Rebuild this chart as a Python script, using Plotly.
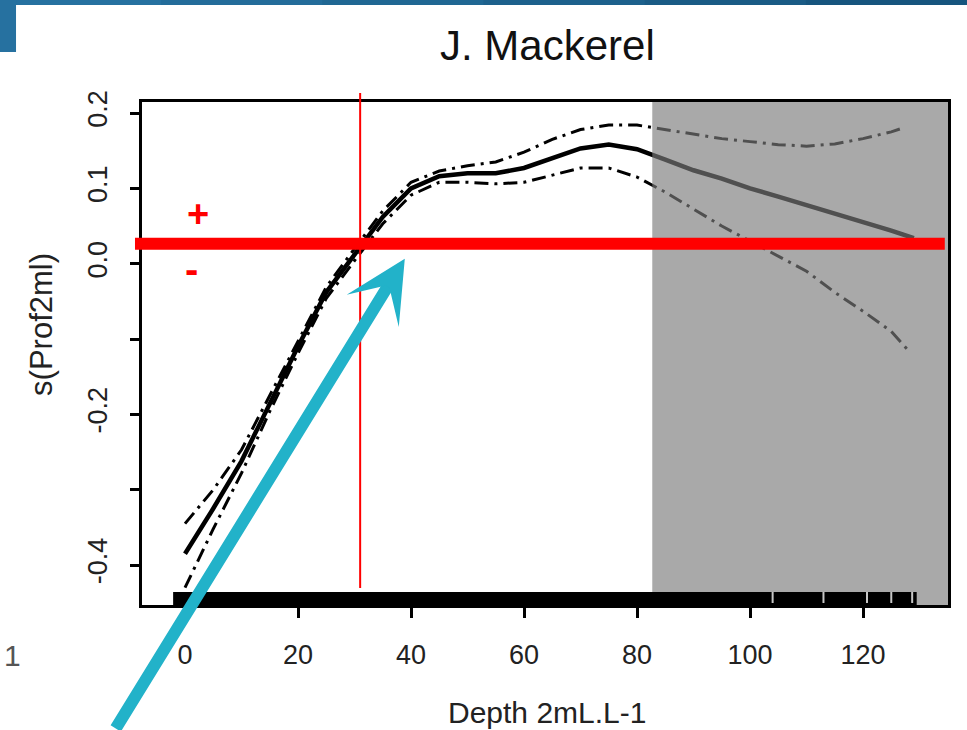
import plotly.graph_objects as go

# ---- data ----
depth = [0, 5, 10, 15, 20, 25, 30, 35, 40, 45, 50, 55, 60, 65, 70, 75, 80,
         85, 90, 95, 100, 105, 110, 115, 120, 125, 129]
s_mean = [-0.385, -0.325, -0.262, -0.185, -0.11, -0.038, 0.012, 0.062, 0.1,
          0.116, 0.12, 0.12, 0.127, 0.14, 0.153, 0.158, 0.152, 0.138, 0.124,
          0.113, 0.1, 0.089, 0.078, 0.066, 0.055, 0.044, 0.034]
upper_x = [0, 5, 10, 15, 20, 25, 30, 35, 40, 45, 50, 55, 60, 65, 70, 75, 80,
           85, 90, 95, 100, 105, 110, 115, 120, 125, 127]
s_upper = [-0.345, -0.3, -0.247, -0.175, -0.102, -0.031, 0.02, 0.07, 0.108,
           0.123, 0.13, 0.135, 0.148, 0.165, 0.178, 0.184, 0.184, 0.178, 0.171,
           0.166, 0.162, 0.158, 0.156, 0.159, 0.166, 0.175, 0.18]
lower_x = [0, 5, 10, 15, 20, 25, 30, 35, 40, 45, 50, 55, 60, 65, 70, 75, 80,
           85, 90, 95, 100, 105, 110, 115, 120, 125, 128]
s_lower = [-0.43, -0.352, -0.278, -0.196, -0.119, -0.046, 0.004, 0.053, 0.091,
           0.108, 0.108, 0.106, 0.108, 0.118, 0.127, 0.127, 0.115, 0.095, 0.072,
           0.05, 0.03, 0.01, -0.01, -0.038, -0.063, -0.09, -0.115]

rug_range = [-2.1, 129.5]
rug_gaps = [104, 113, 120.7, 125, 128.7]
shade_from = 82.7
threshold_depth = 31
threshold_s = 0.0265

x_ticks = [0, 20, 40, 60, 80, 100, 120]
y_ticks = [-0.4, -0.3, -0.2, -0.1, 0.0, 0.1, 0.2]
y_ticktext = ["-0.4", "", "-0.2", "", "0.0", "0.1", "0.2"]

title_text = "J. Mackerel"
x_title = "Depth 2mL.L-1"
y_title = "s(Prof2ml)"

bar_colors = ["#2671a0", "#236c9a", "#206793", "#1d618c", "#1a5b85", "#16557e"]

FONT = "Liberation Sans, Arial, sans-serif"
DASH = "14px,6px,3px,6px"

fig = go.Figure()
fig.add_trace(go.Scatter(x=upper_x, y=s_upper, mode="lines",
                         line=dict(color="black", width=3, dash=DASH),
                         hoverinfo="skip"))
fig.add_trace(go.Scatter(x=lower_x, y=s_lower, mode="lines",
                         line=dict(color="black", width=3, dash=DASH),
                         hoverinfo="skip"))
fig.add_trace(go.Scatter(x=depth, y=s_mean, mode="lines",
                         line=dict(color="black", width=4.5), hoverinfo="skip"))

shapes = []
# grey shaded region (semi-transparent, darkens lines below)
shapes.append(dict(type="rect", xref="x", yref="paper", x0=shade_from, x1=200,
                   y0=0, y1=1, fillcolor="rgb(123,123,123)", opacity=0.65,
                   line=dict(width=0), layer="above"))
# rug
shapes.append(dict(type="rect", xref="x", yref="paper", x0=rug_range[0], x1=rug_range[1],
                   y0=0, y1=0.026, fillcolor="black", line=dict(width=0), layer="above"))
for g in rug_gaps:
    shapes.append(dict(type="line", xref="x", yref="paper", x0=g, x1=g,
                       y0=0.004, y1=0.026, line=dict(color="#c8c8c8", width=2),
                       layer="above"))
# red reference lines
shapes.append(dict(type="line", xref="paper", yref="y", x0=-0.0087, x1=0.996,
                   y0=threshold_s, y1=threshold_s,
                   line=dict(color="#ff0000", width=12), layer="above"))
shapes.append(dict(type="line", xref="x", yref="paper", x0=threshold_depth,
                   x1=threshold_depth, y0=0.034, y1=1.018,
                   line=dict(color="#ff0000", width=2), layer="above"))
# slide decoration (blue bar, stepped gradient)
x_start, x_end = -0.1762, 1.0236
n = len(bar_colors)
for i, c in enumerate(bar_colors):
    shapes.append(dict(type="rect", xref="paper", yref="paper",
                       x0=x_start + (x_end - x_start) * i / n,
                       x1=x_start + (x_end - x_start) * (i + 1) / n + 0.002,
                       y0=1.1928, y1=1.2028, fillcolor=c, line=dict(width=0)))
shapes.append(dict(type="rect", xref="paper", yref="paper", x0=-0.1762, x1=-0.1563,
                   y0=1.0994, y1=1.2028, fillcolor=bar_colors[0], line=dict(width=0)))

annotations = [
    dict(text=title_text, xref="paper", yref="paper", x=0.5025, y=1.113,
         xanchor="center", yanchor="middle",
         showarrow=False, font=dict(family=FONT, size=42, color="#111111")),
    dict(text=x_title, xref="paper", yref="paper", x=0.5025, y=-0.213,
         xanchor="center", yanchor="middle",
         showarrow=False, font=dict(family=FONT, size=30, color="#222222")),
    dict(text=y_title, xref="paper", yref="paper", x=-0.124, y=0.557,
         xanchor="center", yanchor="middle",
         showarrow=False, textangle=-90, font=dict(family=FONT, size=31, color="#222222")),
    dict(text="<b>+</b>", xref="x", yref="y", x=2.3, y=0.066, showarrow=False,
         xanchor="center", yanchor="middle",
         font=dict(family=FONT, size=38, color="#ff0000")),
    dict(text="<b>-</b>", xref="x", yref="y", x=1.2, y=-0.007, showarrow=False,
         xanchor="center", yanchor="middle",
         font=dict(family=FONT, size=40, color="#ff0000")),
    dict(text="", xref="x", yref="y", x=38.9, y=0.0066, showarrow=True,
         ax=-290, ay=490, arrowcolor="#22b2c9", arrowwidth=12, arrowhead=3,
         arrowsize=0.85, standoff=0),
    dict(text="1", xref="paper", yref="paper", x=-0.161, y=-0.1, showarrow=False,
         xanchor="center", yanchor="middle",
         font=dict(family=FONT, size=30, color="#555555")),
]

fig.update_layout(
    width=967, height=730, autosize=False,
    margin=dict(l=142, r=19, t=102, b=125),
    paper_bgcolor="white", plot_bgcolor="white",
    showlegend=False,
    shapes=shapes, annotations=annotations,
    xaxis=dict(range=[-7.61, 135.04], tickvals=x_ticks,
               ticktext=[str(v) for v in x_ticks],
               showgrid=False, zeroline=False, showline=True, mirror=True,
               linecolor="black", linewidth=3, ticks="outside", ticklen=10,
               tickwidth=2.5, tickcolor="black", ticklabelstandoff=14,
               tickfont=dict(family=FONT, size=27, color="#222222")),
    yaxis=dict(range=[-0.453, 0.2146], tickvals=y_ticks, ticktext=y_ticktext,
               tickangle=-90,
               showgrid=False, zeroline=False, showline=True, mirror=True,
               linecolor="black", linewidth=3, ticks="outside", ticklen=9,
               tickwidth=2.5, tickcolor="black", ticklabelstandoff=12,
               tickfont=dict(family=FONT, size=27, color="#222222")),
)

fig.write_html("out.html", config={"displayModeBar": False},
               post_script="document.body.style.margin='0';document.body.style.overflow='hidden';")
